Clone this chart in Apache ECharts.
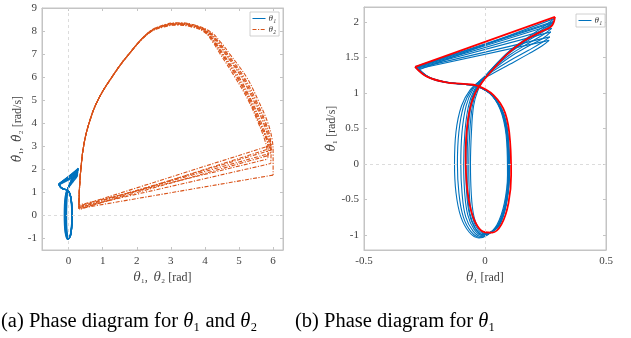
<!DOCTYPE html>
<html>
<head>
<meta charset="utf-8">
<script src="https://cdn.jsdelivr.net/npm/echarts@6/dist/echarts.min.js"></script>
<style>
  html, body { margin: 0; padding: 0; background: #fff; }
  #chart { width: 631px; height: 338px; }
</style>
</head>
<body>
<div id="chart"></div>
<script>
// theta_2 phase cycles [theta2, dtheta2] (a)
const th2CycleA = [[0.3,0.45],[0.32,1.2],[0.36,2.0],[0.44,3.0],[0.6,4.0],[0.86,5.0],[1.27,6.0],[1.77,7.0],[2.35,7.95],[2.8,8.27],[3.2,8.36],[3.65,8.28],[4.15,7.98],[4.47,7.5],[4.73,7.0],[5.22,6.0],[5.56,5.0],[5.85,4.0],[5.97,3.3],[6.0,2.7],[6.0,1.75]];
const th2CycleB = [[0.31,0.3],[0.32,1.2],[0.36,2.0],[0.44,3.0],[0.6,4.0],[0.86,5.0],[1.27,6.0],[1.77,7.0],[2.35,7.94],[2.8,8.25],[3.2,8.34],[3.65,8.26],[4.1,7.98],[4.42,7.5],[4.67,7.0],[5.15,6.0],[5.5,5.0],[5.79,4.0],[5.92,3.3],[5.94,2.7],[5.93,2.25]];
const th2CycleC = [[0.3,0.38],[0.32,1.2],[0.36,2.0],[0.44,3.0],[0.6,4.0],[0.86,5.0],[1.27,6.0],[1.77,7.0],[2.35,7.93],[2.8,8.24],[3.2,8.32],[3.65,8.24],[4.06,7.98],[4.36,7.5],[4.6,7.0],[5.07,6.0],[5.42,5.0],[5.72,4.0],[5.87,3.3],[5.9,2.9]];
const th2CycleD = [[0.31,0.25],[0.32,1.2],[0.36,2.0],[0.44,3.0],[0.6,4.0],[0.86,5.0],[1.27,6.0],[1.77,7.0],[2.35,7.92],[2.8,8.22],[3.2,8.3],[3.65,8.22],[4.03,7.98],[4.31,7.5],[4.54,7.0],[5.0,6.0],[5.36,5.0],[5.66,4.0],[5.82,3.3],[5.85,2.9],[5.86,2.6]];
const th2CycleE = [[0.3,0.33],[0.32,1.2],[0.36,2.0],[0.44,3.0],[0.6,4.0],[0.86,5.0],[1.27,6.0],[1.77,7.0],[2.35,7.91],[2.8,8.2],[3.2,8.28],[3.62,8.2],[4.0,7.97],[4.27,7.5],[4.49,7.0],[4.93,6.0],[5.3,5.0],[5.6,4.0],[5.8,3.4],[5.95,3.05]];
const th2CycleF = [[0.3,0.4],[0.32,1.2],[0.36,2.0],[0.44,3.0],[0.6,4.0],[0.86,5.0],[1.27,6.0],[1.77,7.0],[2.35,7.9],[2.8,8.18],[3.2,8.26],[3.6,8.18],[3.98,7.96],[4.24,7.5],[4.45,7.0],[4.88,6.0],[5.27,5.0],[5.57,4.0],[5.75,3.3],[5.83,2.8],[5.85,2.45]];
const th2CycleG = [[0.31,0.35],[0.32,1.2],[0.36,2.0],[0.44,3.0],[0.6,4.0],[0.86,5.0],[1.27,6.0],[1.77,7.0],[2.35,7.93],[2.8,8.24],[3.2,8.33],[3.64,8.25],[4.08,7.98],[4.39,7.5],[4.63,7.0],[5.11,6.0],[5.46,5.0],[5.76,4.0],[5.9,3.3],[5.93,2.95],[5.92,2.7]];
const th2CycleH = [[0.3,0.28],[0.32,1.2],[0.36,2.0],[0.44,3.0],[0.6,4.0],[0.86,5.0],[1.27,6.0],[1.77,7.0],[2.35,7.91],[2.8,8.21],[3.2,8.29],[3.63,8.21],[4.01,7.97],[4.29,7.5],[4.51,7.0],[4.96,6.0],[5.33,5.0],[5.62,4.0],[5.8,3.3],[5.9,2.95],[5.97,2.85]];

// theta_1 phase cycles [theta1, dtheta1] (b)
const th1CycleA = [[-0.27,1.33],[-0.22,1.2],[-0.15,1.14],[-0.08,1.12],[-0.03,1.09],[0.03,0.96],[0.07,0.7],[0.09,0.3],[0.093,-0.15],[0.08,-0.55],[0.05,-0.85],[0.01,-1.0],[-0.025,-1.04],[-0.065,-0.96],[-0.1,-0.74],[-0.12,-0.4],[-0.126,0.0],[-0.12,0.45],[-0.097,0.82],[-0.06,1.05],[-0.02,1.17],[0.03,1.27],[0.1,1.4],[0.18,1.55],[0.235,1.66],[0.265,1.74]];
const th1CycleB = [[-0.275,1.34],[-0.225,1.21],[-0.15,1.145],[-0.08,1.12],[-0.03,1.09],[0.03,0.96],[0.072,0.7],[0.092,0.3],[0.095,-0.15],[0.083,-0.55],[0.053,-0.85],[0.012,-0.99],[-0.02,-1.03],[-0.058,-0.95],[-0.09,-0.74],[-0.108,-0.4],[-0.114,0.0],[-0.108,0.45],[-0.088,0.82],[-0.055,1.05],[-0.018,1.18],[0.03,1.3],[0.1,1.45],[0.18,1.6],[0.235,1.71],[0.268,1.79]];
const th1CycleC = [[-0.28,1.35],[-0.23,1.22],[-0.155,1.15],[-0.08,1.12],[-0.03,1.095],[0.03,0.965],[0.075,0.7],[0.095,0.3],[0.098,-0.15],[0.086,-0.55],[0.056,-0.85],[0.015,-0.98],[-0.015,-1.02],[-0.05,-0.94],[-0.08,-0.74],[-0.095,-0.4],[-0.1,0.0],[-0.095,0.45],[-0.078,0.82],[-0.05,1.05],[-0.015,1.19],[0.03,1.32],[0.1,1.5],[0.18,1.66],[0.24,1.77],[0.272,1.86]];
const th1CycleG = [[-0.283,1.355],[-0.232,1.222],[-0.157,1.15],[-0.082,1.122],[-0.03,1.095],[0.03,0.965],[0.075,0.7],[0.095,0.3],[0.099,-0.15],[0.087,-0.55],[0.057,-0.85],[0.017,-0.975],[-0.012,-1.005],[-0.045,-0.92],[-0.071,-0.72],[-0.084,-0.4],[-0.088,0.0],[-0.083,0.45],[-0.068,0.82],[-0.045,1.04],[-0.012,1.19],[0.032,1.34],[0.1,1.53],[0.18,1.7],[0.24,1.82],[0.276,1.91]];
const th1CycleD = [[-0.285,1.36],[-0.235,1.225],[-0.16,1.15],[-0.085,1.125],[-0.03,1.095],[0.03,0.965],[0.076,0.7],[0.096,0.3],[0.1,-0.15],[0.088,-0.55],[0.058,-0.85],[0.02,-0.97],[-0.01,-0.99],[-0.04,-0.9],[-0.062,-0.7],[-0.072,-0.4],[-0.074,0.0],[-0.07,0.45],[-0.058,0.82],[-0.04,1.03],[-0.01,1.19],[0.035,1.36],[0.1,1.56],[0.18,1.74],[0.24,1.86],[0.28,1.96]];
const th1CycleH = [[-0.286,1.362],[-0.236,1.226],[-0.16,1.15],[-0.085,1.125],[-0.03,1.095],[0.03,0.965],[0.076,0.7],[0.097,0.3],[0.1,-0.15],[0.088,-0.55],[0.059,-0.85],[0.02,-0.97],[-0.008,-0.995],[-0.04,-0.91],[-0.064,-0.71],[-0.076,-0.4],[-0.079,0.0],[-0.075,0.45],[-0.062,0.82],[-0.042,1.035],[-0.01,1.19],[0.036,1.37],[0.1,1.57],[0.18,1.76],[0.24,1.88],[0.282,1.99]];
const th1CycleE = [[-0.287,1.365],[-0.238,1.228],[-0.16,1.15],[-0.085,1.125],[-0.03,1.095],[0.03,0.965],[0.077,0.7],[0.097,0.3],[0.1,-0.15],[0.088,-0.55],[0.06,-0.85],[0.022,-0.965],[-0.005,-0.98],[-0.035,-0.89],[-0.055,-0.7],[-0.065,-0.4],[-0.067,0.0],[-0.063,0.45],[-0.052,0.82],[-0.035,1.03],[-0.008,1.19],[0.037,1.37],[0.1,1.58],[0.18,1.77],[0.24,1.9],[0.285,2.01]];
const th1CycleF = [[-0.289,1.367],[-0.24,1.23],[-0.16,1.15],[-0.085,1.125],[-0.03,1.095],[0.03,0.965],[0.078,0.7],[0.098,0.3],[0.101,-0.15],[0.089,-0.55],[0.062,-0.85],[0.025,-0.96],[0.0,-0.975],[-0.03,-0.88],[-0.048,-0.7],[-0.057,-0.4],[-0.06,0.0],[-0.056,0.45],[-0.047,0.82],[-0.03,1.03],[-0.005,1.19],[0.04,1.38],[0.1,1.59],[0.18,1.79],[0.24,1.93],[0.288,2.05]];

// red cycle drawn over plot (b)
const th1Limit = [[-0.289,1.367],[-0.24,1.23],[-0.16,1.15],[-0.09,1.128],[-0.03,1.1],[0.035,0.97],[0.083,0.72],[0.104,0.3],[0.108,-0.15],[0.097,-0.55],[0.068,-0.85],[0.03,-0.965],[0.0,-0.96],[-0.03,-0.88],[-0.058,-0.65],[-0.075,-0.3],[-0.08,0.1],[-0.076,0.45],[-0.062,0.78],[-0.04,1.0],[-0.012,1.15],[0.03,1.32],[0.09,1.54],[0.16,1.73],[0.23,1.86],[0.275,1.94],[0.289,2.07]];

const th1Cycles = [th1CycleA, th1CycleB, th1CycleC, th1CycleG, th1CycleD, th1CycleH, th1CycleE, th1CycleF];
const th2Cycles = [th2CycleA, th2CycleB, th2CycleG, th2CycleC, th2CycleD, th2CycleH, th2CycleE, th2CycleF];

const SERIF = 'Liberation Serif';
const GREY = '#404040';
const BOX = '#c4c4c4';
const BLUE = '#0072BD';
const ORANGE = '#D95319';

var chart = echarts.init(document.getElementById('chart'));

// one smooth arc per step + the straight impact jump to the next step
function cycleSeries(cycles, name, gi, lineStyle, z) {
  var out = [];
  cycles.forEach(function (c, i) {
    var next = cycles[(i + 1) % cycles.length];
    var ls = Object.assign({}, lineStyle, { dashOffset: i * 1.7 });
    out.push({
      type: 'line', name: name, xAxisIndex: gi * 2, yAxisIndex: gi * 2,
      data: c, smooth: 0.4, symbol: 'none', lineStyle: ls, z: z, silent: true
    });
    out.push({
      type: 'line', name: name, xAxisIndex: gi * 2, yAxisIndex: gi * 2,
      data: [c[c.length - 1], next[0]], symbol: 'none', lineStyle: ls, z: z, silent: true
    });
  });
  return out;
}

function zeroLines(gi) {
  return {
    type: 'line', data: [], xAxisIndex: gi * 2, yAxisIndex: gi * 2, z: 1, silent: true,
    markLine: {
      silent: true, symbol: 'none', label: { show: false }, animation: false,
      lineStyle: { type: [3, 3], color: '#d4d4d4', width: 0.8 },
      data: [{ xAxis: 0 }, { yAxis: 0 }]
    }
  };
}

const labelStyle = { fontFamily: SERIF, fontSize: 11, color: GREY };
const nameRich = {
  i: { fontFamily: 'DejaVu Serif', fontStyle: 'italic', fontSize: 12, color: GREY },
  n: { fontFamily: SERIF, fontSize: 12, color: GREY }
};

function xAxes(gi, min, max, split, name, showEnds) {
  return [{
    gridIndex: gi, type: 'value', min: min, max: max, splitNumber: split,
    axisLine: { onZero: false, lineStyle: { color: BOX } },
    axisTick: { inside: true, length: 3, lineStyle: { color: BOX } },
    axisLabel: Object.assign({ margin: 6, showMinLabel: showEnds, showMaxLabel: showEnds }, labelStyle),
    splitLine: { show: false },
    name: name, nameLocation: 'middle', nameGap: 13, nameTextStyle: { rich: nameRich }
  }, {
    gridIndex: gi, type: 'value', position: 'top', min: min, max: max, splitNumber: split,
    axisLine: { onZero: false, lineStyle: { color: BOX } },
    axisTick: { inside: true, length: 3, lineStyle: { color: BOX } },
    axisLabel: { show: false }, splitLine: { show: false }
  }];
}

function yAxes(gi, min, max, split, name, showMax, gap) {
  return [{
    gridIndex: gi, type: 'value', min: min, max: max, splitNumber: split,
    axisLine: { onZero: false, lineStyle: { color: BOX } },
    axisTick: { inside: true, length: 3, lineStyle: { color: BOX } },
    axisLabel: Object.assign({ margin: 5, showMinLabel: false, showMaxLabel: showMax }, labelStyle),
    splitLine: { show: false },
    name: name, nameLocation: 'middle', nameRotate: 90, nameGap: gap, nameTextStyle: { rich: nameRich }
  }, {
    gridIndex: gi, type: 'value', position: 'right', min: min, max: max, splitNumber: split,
    axisLine: { onZero: false, lineStyle: { color: BOX } },
    axisTick: { inside: true, length: 3, lineStyle: { color: BOX } },
    axisLabel: { show: false }, splitLine: { show: false }
  }];
}

var series = [zeroLines(0), zeroLines(1)]
  .concat(cycleSeries(th1Cycles, 'θ₁', 0, { color: BLUE, width: 1.3 }, 3))
  .concat(cycleSeries(th2Cycles, 'θ₂', 0, { color: ORANGE, width: 1.1, type: [4, 1.5, 1.2, 1.5] }, 2))
  .concat(cycleSeries(th1Cycles, 'θ₁', 1, { color: BLUE, width: 1.1 }, 2))
  .concat(cycleSeries([th1Limit], 'limit', 1, { color: '#ff0000', width: 1.8 }, 4));

const legendBase = {
  orient: 'vertical', itemWidth: 13, itemHeight: 6, itemGap: 2,
  padding: [2, 3, 2, 2], borderColor: BOX, borderWidth: 0.8, backgroundColor: '#fff',
  selectedMode: false,
  itemStyle: { color: 'rgba(0,0,0,0)', borderColor: 'rgba(0,0,0,0)', borderWidth: 0 },
  lineStyle: { width: 1 },
  textStyle: { fontFamily: SERIF, fontStyle: 'italic', fontSize: 9, color: '#333', padding: [0, 0, 0, -2] }
};

const captionRich = { i: { fontFamily: SERIF, fontStyle: 'italic', fontSize: 20.5, fill: '#000' } };

var option = {
  animation: false,
  backgroundColor: '#fff',
  grid: [
    { left: 42, top: 8, width: 241, height: 242, show: true, borderColor: BOX, borderWidth: 1 },
    { left: 364, top: 7, width: 242, height: 243, show: true, borderColor: BOX, borderWidth: 1 }
  ],
  legend: [
    Object.assign({ data: ['θ₁', 'θ₂'], left: 250, top: 12 }, legendBase),
    Object.assign({ data: ['θ₁'], left: 576, top: 14 }, legendBase)
  ],
  xAxis: xAxes(0, -0.78, 6.29, 7, '{i|θ}{n|₁,  }{i|θ}{n|₂ [rad]}', false)
    .concat(xAxes(1, -0.5, 0.5, 2, '{i|θ}{n|₁ [rad]}', true)),
  yAxis: yAxes(0, -1.5, 9, 10, '{i|θ\u0307}{n|₁,  }{i|θ\u0307}{n|₂ [rad/s]}', true, 18)
    .concat(yAxes(1, -1.21, 2.21, 7, '{i|θ\u0307}{n|₁ [rad/s]}', false, 16)),
  series: series,
  graphic: [
    {
      type: 'text', left: 1, top: 311,
      style: {
        text: '(a) Phase diagram for {i|θ}₁ and {i|θ}₂',
        fontFamily: SERIF, fontSize: 20.5, fill: '#000', rich: captionRich
      }
    },
    {
      type: 'text', left: 295, top: 311,
      style: {
        text: '(b) Phase diagram for {i|θ}₁',
        fontFamily: SERIF, fontSize: 20.5, fill: '#000', rich: captionRich
      }
    }
  ]
};

chart.setOption(option);
</script>
</body>
</html>
